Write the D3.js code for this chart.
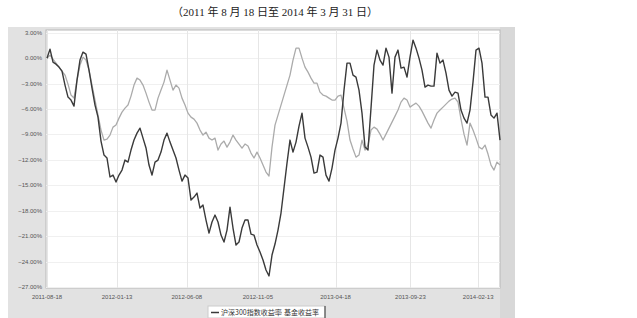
<!DOCTYPE html>
<html><head><meta charset="utf-8">
<script src="https://cdn.jsdelivr.net/npm/d3@7"></script>
<style>body{margin:0;background:#fff}</style>
</head><body><svg id="c" width="637" height="318"></svg>
<script>
const titleText = "（2011 年 8 月 18 日至 2014 年 3 月 31 日）";
const startDate = "2011-08-18";
const endDate = "2014-03-31";
const seriesNames = ["沪深300指数收益率", "基金收益率"];
const yTicks = [3, 0, -3, -6, -9, -12, -15, -18, -21, -24, -27];
const xTickDates = ["2011-08-18","2012-01-13","2012-06-08","2012-11-05","2013-04-18","2013-09-23","2014-02-13"];
const darkValues = [0.00,1.07,-0.46,-0.70,-1.05,-1.52,-3.17,-4.59,-4.94,-5.65,
-2.58,-0.22,0.72,0.48,-1.40,-3.53,-5.53,-6.95,-9.78,-11.43,
-11.78,-14.02,-13.79,-14.62,-13.79,-13.20,-12.02,-12.26,-10.84,-9.66,
-8.84,-8.25,-9.43,-10.59,-12.61,-13.79,-12.26,-12.02,-11.08,-9.66,
-8.84,-9.90,-10.84,-11.78,-13.20,-14.50,-13.79,-14.14,-16.74,-16.39,
-15.92,-17.68,-17.33,-19.10,-20.64,-19.33,-18.51,-19.33,-20.87,-21.69,
-20.28,-17.57,-20.04,-22.05,-21.69,-20.04,-19.10,-19.10,-20.75,-20.87,
-22.05,-22.87,-23.82,-25.00,-25.70,-23.23,-21.93,-20.28,-18.27,-15.33,
-12.38,-9.66,-11.08,-9.90,-8.01,-6.48,-9.43,-10.49,-11.67,-13.56,
-13.44,-11.43,-11.67,-13.79,-14.50,-12.97,-10.84,-9.43,-7.66,-3.76,
-0.58,-0.58,-1.99,-2.23,-3.76,-6.48,-10.49,-10.84,-5.89,-0.81,
0.96,-0.22,-0.81,1.19,0.13,-4.12,0.13,0.96,-1.17,-1.05,
-2.23,0.13,2.14,1.19,0.01,-1.40,-3.41,-3.17,-3.29,-3.29,
0.60,-0.58,-0.22,-1.76,-3.76,-4.47,-4.00,-4.12,-6.12,-7.07,
-7.66,-6.12,-2.82,0.96,1.19,-0.58,-4.59,-4.59,-6.71,-7.07,
-6.48,-9.66];
const lightValues = [0.00,0.37,-0.11,-0.58,-1.05,-1.52,-1.99,-3.06,-4.35,-4.71,
-2.58,-0.81,0.13,-0.22,-1.40,-3.17,-4.94,-6.71,-8.48,-9.66,
-9.54,-9.07,-8.13,-7.89,-7.07,-6.36,-5.89,-5.53,-4.47,-3.17,
-2.35,-2.58,-3.17,-4.12,-5.18,-6.12,-6.12,-4.71,-3.76,-2.82,
-1.40,-2.58,-3.76,-3.17,-3.53,-4.71,-5.53,-6.48,-6.95,-7.19,
-7.66,-8.48,-9.07,-8.72,-9.43,-9.66,-9.43,-10.84,-10.13,-9.78,
-10.49,-9.90,-9.07,-9.66,-10.13,-10.61,-10.13,-10.37,-11.20,-11.78,
-11.08,-11.78,-12.61,-13.44,-13.90,-10.49,-7.89,-6.71,-5.53,-4.35,
-3.17,-1.99,-0.22,1.19,1.19,0.01,-1.05,-1.64,-2.35,-2.94,
-2.94,-4.00,-4.35,-4.47,-4.71,-4.94,-4.94,-4.47,-4.35,-5.89,
-7.42,-9.66,-10.72,-11.67,-11.43,-9.66,-10.84,-10.25,-8.48,-8.13,
-8.37,-8.96,-9.66,-8.96,-8.25,-7.54,-6.83,-6.12,-5.18,-4.71,
-4.94,-5.77,-5.53,-5.30,-5.65,-6.24,-6.95,-7.66,-8.25,-7.30,
-6.48,-6.12,-5.77,-5.42,-5.06,-4.82,-4.71,-5.18,-7.19,-8.96,
-10.25,-7.66,-8.48,-9.43,-10.49,-10.72,-10.25,-11.31,-12.61,-13.20,
-12.26,-12.61];

const parse = d3.timeParse("%Y-%m-%d");
const t0 = parse(startDate), t1 = parse(endDate);
const n = darkValues.length;
const dates = d3.range(n).map(i => new Date(+t0 + (t1 - t0) * i / (n - 1)));

const svg = d3.select("#c");
const plot = {x0: 46, x1: 500, y0: 30, y1: 288};

// outer panel
svg.append("rect").attr("x", 8).attr("y", 27).attr("width", 507).attr("height", 291).attr("fill", "#e2e2e2");
svg.append("rect").attr("x", 500).attr("y", 27).attr("width", 15).attr("height", 291).attr("fill", "#d8d8d8");
svg.append("rect").attr("x", plot.x0).attr("y", plot.y0).attr("width", plot.x1 - plot.x0).attr("height", plot.y1 - plot.y0)
  .attr("fill", "#fff").attr("stroke", "#b8b8b8").attr("stroke-width", 1);

const x = d3.scaleTime().domain([t0, t1]).range([47, 500]);
const y = d3.scaleLinear().domain([-27, 3.33]).range([287, 30]);

// grid
svg.append("g").selectAll("line").data(yTicks).join("line")
  .attr("x1", plot.x0).attr("x2", plot.x1)
  .attr("y1", d => Math.round(y(d)) + 0.5).attr("y2", d => Math.round(y(d)) + 0.5)
  .attr("stroke", "#f0f0f0");
svg.append("g").selectAll("line").data(xTickDates).join("line")
  .attr("x1", d => Math.round(x(parse(d))) + 0.5).attr("x2", d => Math.round(x(parse(d))) + 0.5)
  .attr("y1", plot.y0).attr("y2", plot.y1)
  .attr("stroke", "#e6e6e6");

// y labels
svg.append("g").selectAll("text").data(yTicks).join("text")
  .attr("x", 42).attr("y", d => y(d) + 2)
  .attr("text-anchor", "end").attr("font-size", 6).attr("font-family", "Liberation Sans, Arial, sans-serif")
  .attr("fill", "#555").text(d => d3.format(".2f")(d) + "%");

// x labels
svg.append("g").selectAll("text").data(xTickDates).join("text")
  .attr("x", d => x(parse(d))).attr("y", 299)
  .attr("text-anchor", "middle").attr("font-size", 6).attr("font-family", "Liberation Sans, Arial, sans-serif")
  .attr("fill", "#555").text(d => d);

// lines
const line = d3.line().x((d, i) => x(dates[i])).y(d => y(d));
svg.append("path").datum(lightValues).attr("d", line).attr("fill", "none")
  .attr("stroke", "#ababab").attr("stroke-width", 1.3).attr("stroke-linejoin", "round");
svg.append("path").datum(darkValues).attr("d", line).attr("fill", "none")
  .attr("stroke", "#3a3a3a").attr("stroke-width", 1.4).attr("stroke-linejoin", "round");

// legend
const lg = svg.append("g");
lg.append("rect").attr("x", 208).attr("y", 306).attr("width", 117).attr("height", 12).attr("fill", "#fff").attr("stroke", "#ccc");
lg.append("line").attr("x1", 325).attr("x2", 325).attr("y1", 306).attr("y2", 318).attr("stroke", "#333");
const legColors = ["#3a3a3a", "#ababab"];
const legX = [211, 274];
seriesNames.forEach((s, i) => {
  lg.append("line").attr("x1", legX[i]).attr("x2", legX[i] + 8).attr("y1", 312.5).attr("y2", 312.5)
    .attr("stroke", legColors[i]).attr("stroke-width", 1.5);
  lg.append("text").attr("x", legX[i] + 10).attr("y", 315).attr("font-size", 7)
    .attr("font-family", "Noto Sans CJK SC, sans-serif").attr("fill", "#333").text(s);
});

// title
svg.append("text").attr("x", 275).attr("y", 16).attr("text-anchor", "middle")
  .attr("font-size", 11).attr("font-family", "Liberation Serif, Noto Sans CJK SC, serif")
  .attr("fill", "#222").text(titleText);
</script></body></html>
